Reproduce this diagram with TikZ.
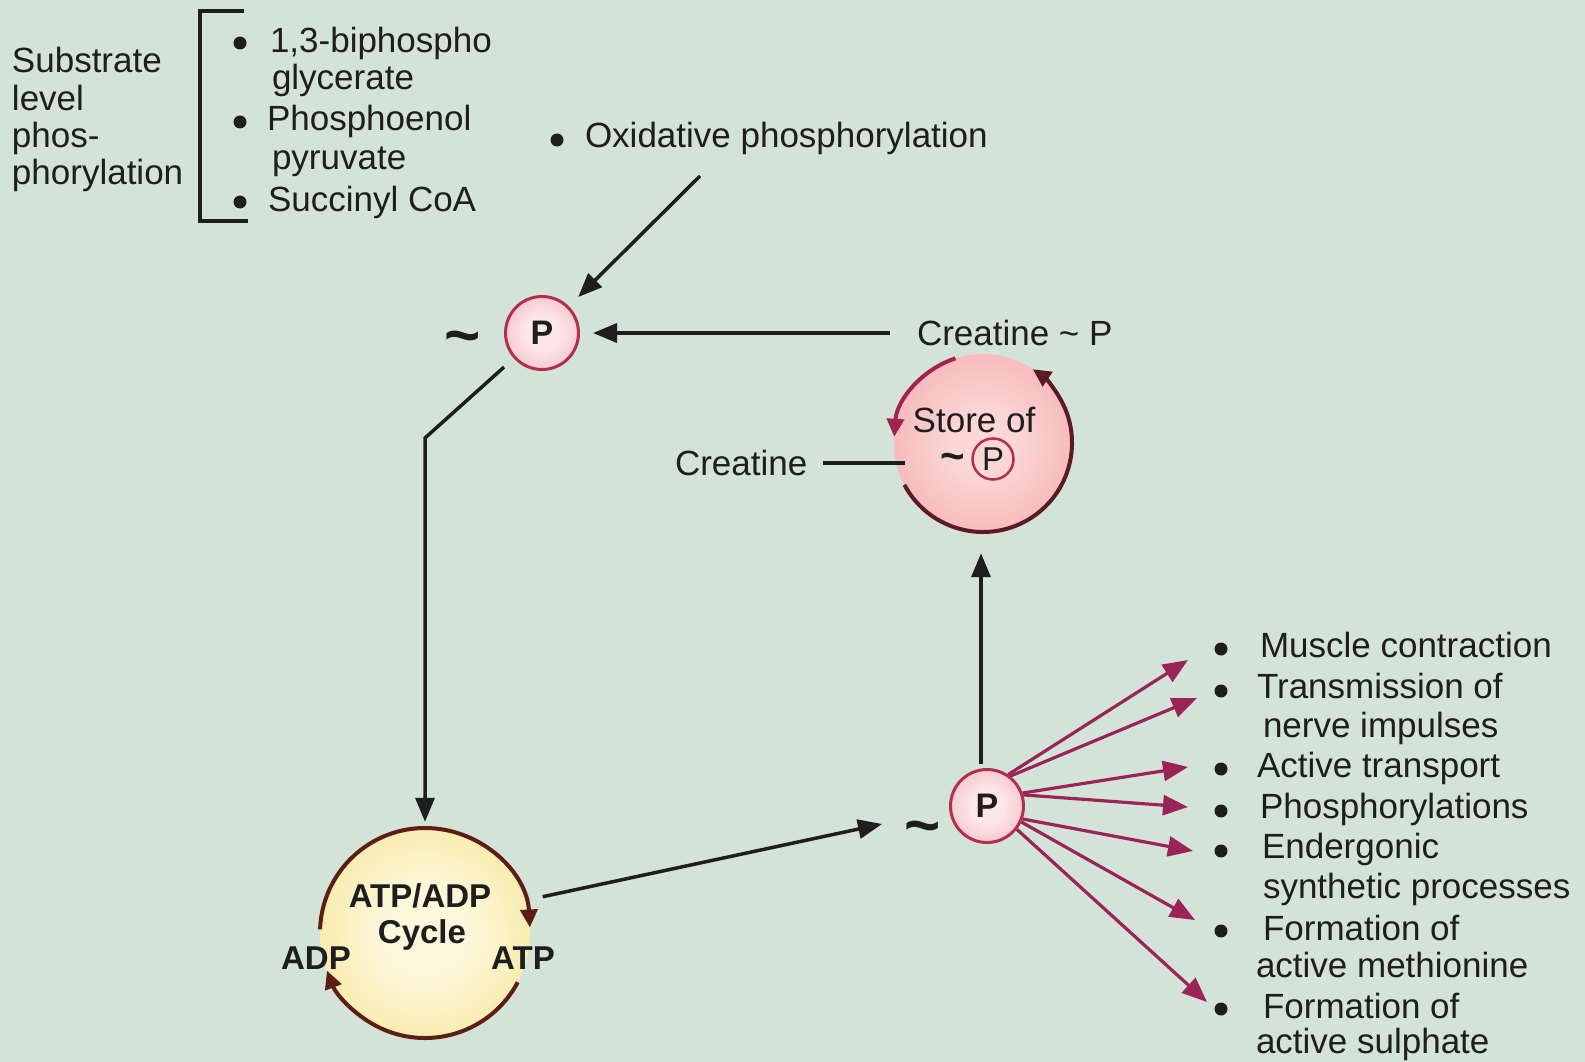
\documentclass[tikz,border=0pt]{standalone}
\usepackage{fontspec}
\setmainfont{Liberation Sans}
\usetikzlibrary{arrows.meta}
\definecolor{bgc}{HTML}{D4E3D8}
\definecolor{ink}{HTML}{1E1E1E}
\definecolor{pbord}{HTML}{B3304D}
\definecolor{pin}{HTML}{FCE6E8}
\definecolor{pout}{HTML}{EE95A2}
\definecolor{stin}{HTML}{FBD8D6}
\definecolor{stout}{HTML}{F0929A}
\definecolor{cyin}{HTML}{FDF8DC}
\definecolor{cyout}{HTML}{F2D968}
\definecolor{maroon}{HTML}{5C1D14}
\definecolor{maroonb}{HTML}{5A1B24}
\definecolor{crim}{HTML}{A3224E}
\definecolor{mag}{HTML}{9A2358}
\pgfdeclareradialshading{cyshade}{\pgfpoint{0bp}{0bp}}{color(0bp)=(cyin); color(10bp)=(cyin); color(50bp)=(cyout)}
\pgfdeclareradialshading{stshade}{\pgfpoint{0bp}{0bp}}{color(0bp)=(stin); color(8bp)=(stin); color(50bp)=(stout)}
\pgfdeclareradialshading{pshade}{\pgfpoint{0bp}{0bp}}{color(0bp)=(pin); color(12bp)=(pin); color(50bp)=(pout)}
\begin{document}
\begin{tikzpicture}[x=1pt,y=-1pt,
  txt/.style={inner sep=0pt, outer sep=0pt, anchor=base west, text=ink, font=\fontsize{35}{42}\selectfont},
  btxt/.style={inner sep=0pt, outer sep=0pt, anchor=base, text=ink, font=\bfseries\fontsize{33}{40}\selectfont},
  tld/.style={inner sep=0pt, text=ink, font=\bfseries\fontsize{62}{62}\selectfont},
  arr/.style={draw=ink, line width=3.5pt, -{Triangle[length=24pt,width=19pt]}},
  marr/.style={draw=mag, line width=3.2pt, -{Triangle[length=25pt,width=20pt]}},
  arcarr/.style={line width=4pt, -{Triangle[length=18pt,width=17pt]}},
  pball/.style={circle, minimum size=73pt, inner sep=0pt, draw=pbord, line width=3pt, shading=pshade, shade, text=ink, font=\bfseries\fontsize{34}{34}\selectfont},
  bigball/.style={circle, inner sep=0pt},
  dotm/.style={fill=ink},
]
\useasboundingbox (0,0) rectangle (1585,1062);
\fill[bgc] (0,0) rectangle (1585,1062);

% ---------- left block ----------
\node[txt] (sub1) at (12,73) {Substrate};
\node[txt] (sub2) at (12,111) {level};
\node[txt] (sub3) at (12,148) {phos-};
\node[txt] (sub4) at (12,185) {phorylation};
\draw[draw=ink, line width=4pt] (244,11) -- (200,11) -- (200,221) -- (248,221);
\fill[dotm] (240,43) circle[radius=6.5pt];
\fill[dotm] (240,122) circle[radius=6.5pt];
\fill[dotm] (240,202) circle[radius=6.5pt];
\node[txt] (l1) at (270,53) {1,3-biphospho};
\node[txt] (l2) at (272,90) {glycerate};
\node[txt] (l3) at (267,131) {Phosphoenol};
\node[txt] (l4) at (272,169) {pyruvate};
\node[txt] (l5) at (268,211) {Succinyl CoA};

% ---------- oxidative ----------
\fill[dotm] (557,140) circle[radius=6.5pt];
\node[txt] (ox) at (585,148) {Oxidative phosphorylation};
\coordinate (oxs) at (700,176);

% ---------- circles ----------
\node[pball] (p1) at (542,333) {P};
\node[tld] (t1) at (463,344) {\textasciitilde};
\node[bigball, minimum size=178pt, shading=stshade, shade] (store) at (983,443) {};
\node[bigball, minimum size=210pt, shading=cyshade, shade] (cyc) at (425,933) {};
\node[pball] (p2) at (987,806) {P};
\node[tld] (t2) at (923,834) {\textasciitilde};

% store arcs
\draw[arcarr, draw=crim] (store.center) ++(-108:89) arc[start angle=-108, end angle=-176, radius=89];
\draw[arcarr, draw=maroonb] (store.center) ++(-208:89) arc[start angle=-208, end angle=-416, radius=89];
% cycle arcs
\draw[arcarr, draw=maroon] (cyc.center) ++(-178:105) arc[start angle=-178, end angle=-3, radius=105];
\draw[arcarr, draw=maroon] (cyc.center) ++(28:105) arc[start angle=28, end angle=159, radius=105];

% store texts
\node[txt, anchor=base] (sto) at (974,432) {Store of};
\node[tld, anchor=base, font=\bfseries\fontsize{42}{42}\selectfont] (stt) at (953,470) {\textasciitilde};
\node[circle, draw=pbord, line width=2.5pt, minimum size=41pt, inner sep=0pt, text=ink, font=\fontsize{33}{33}\selectfont] (sp) at (993,459) {P};

% creatine texts
\node[txt, anchor=west] (crp) at (917,333) {Creatine \textasciitilde{} P};
\node[txt, anchor=west] (cr) at (675,463) {Creatine};
\draw[draw=ink, line width=3.5pt] ([xshift=16pt]cr.east) -- ([xshift=11pt]cr.east -| store.west);

% cycle texts
\node[btxt] (cyt1) at (420,907) {ATP/ADP};
\node[btxt] (cyt2) at (422,943) {Cycle};
\node[btxt] (adp) at (316,969) {ADP};
\node[btxt] (atp) at (523,969) {ATP};

% ---------- black connectors ----------
\draw[arr, shorten >=13pt] (oxs) -- (p1);
\draw[arr, shorten >=13pt] ([xshift=-27pt]crp.west) -- (p1);
\coordinate (bend) at (425,438);
\draw[arr, shorten <=13pt, shorten >=6pt] (p1) -- (bend) -- (cyc);
\coordinate (p2in) at (882,824);
\draw[arr, shorten <=18pt] (cyc.18) -- (p2in);
\draw[arr, shorten <=4pt, shorten >=21pt] ([xshift=-6pt]p2.north) -- ([xshift=-6pt]p2.north |- store.south);

% ---------- right list ----------
\foreach \yy in {649,691,769,811,851,931,1009} \fill[dotm] (1221,\yy) circle[radius=6.5pt];
\node[txt] (r1) at (1260,657) {Muscle contraction};
\node[txt] (r2a) at (1257,698) {Transmission of};
\node[txt] (r2b) at (1263,737) {nerve impulses};
\node[txt] (r3) at (1257,777) {Active transport};
\node[txt] (r4) at (1260,818) {Phosphorylations};
\node[txt] (r5a) at (1262,858) {Endergonic};
\node[txt] (r5b) at (1263,898) {synthetic processes};
\node[txt] (r6a) at (1263,940) {Formation of};
\node[txt] (r6b) at (1256,977) {active methionine};
\node[txt] (r7a) at (1263,1018) {Formation of};
\node[txt] (r7b) at (1256,1053) {active sulphate};

% ---------- magenta connectors ----------
\coordinate (m1) at (1188,660);
\coordinate (m2) at (1197,698);
\coordinate (m3) at (1188,767);
\coordinate (m4) at (1188,807);
\coordinate (m5) at (1193,851);
\coordinate (m6) at (1195,920);
\coordinate (m7) at (1207,1002);
\draw[marr] (p2.56) -- (m1);
\draw[marr] (p2.52) -- (m2);
\draw[marr] (p2.20) -- (m3);
\draw[marr] (p2.17) -- (m4);
\draw[marr] (p2.-20) -- (m5);
\draw[marr] (p2.-25) -- (m6);
\draw[marr] (p2.-38) -- (m7);
\end{tikzpicture}
\end{document}
